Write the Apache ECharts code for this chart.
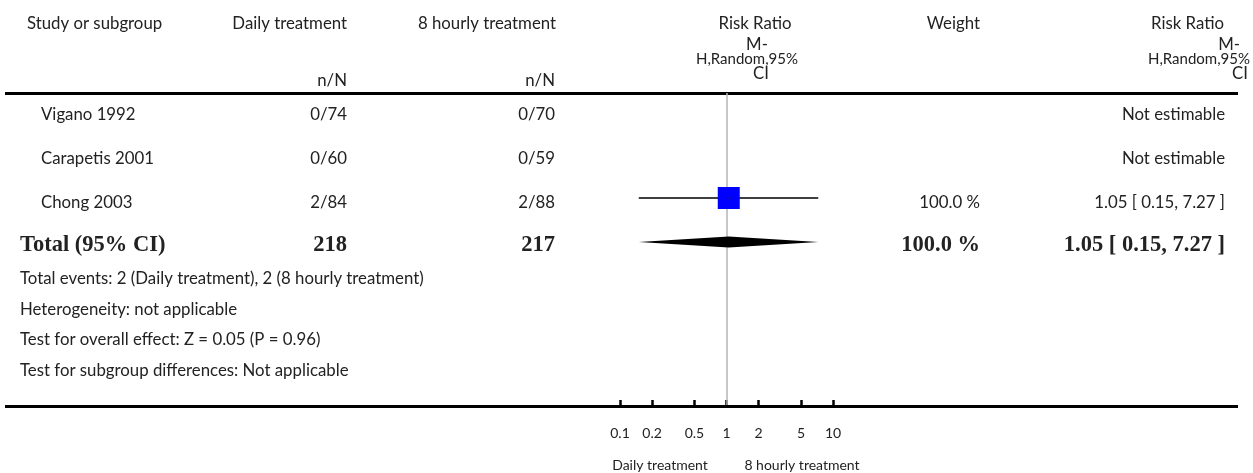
<!DOCTYPE html>
<html>
<head>
<meta charset="utf-8">
<script src="https://cdn.jsdelivr.net/npm/echarts@6/dist/echarts.min.js"></script>
<style>
html,body{margin:0;padding:0;background:#fff;}
#chart{width:1253px;height:473px;}
</style>
</head>
<body>
<div id="chart"></div>
<script>
// ---------- data ----------
const studies = ['Vigano 1992', 'Carapetis 2001', 'Chong 2003'];
const dailyEvents = [0, 0, 2];
const dailyTotal = [74, 60, 84];
const hourlyEvents = [0, 0, 2];
const hourlyTotal = [70, 59, 88];
const rrEstimate = [null, null, 1.05];
const rrLower = [null, null, 0.15];
const rrUpper = [null, null, 7.27];
const studyWeight = [null, null, 100.0];
const totalDaily = 218;
const totalHourly = 217;
const totalRR = [1.05, 0.15, 7.27];
const totalWeight = 100.0;
const xTicks = [0.1, 0.2, 0.5, 1, 2, 5, 10];
const favourLabels = ['Daily treatment', '8 hourly treatment'];
const footnotes = [
  'Total events: 2 (Daily treatment), 2 (8 hourly treatment)',
  'Heterogeneity: not applicable',
  'Test for overall effect: Z = 0.05 (P = 0.96)',
  'Test for subgroup differences: Not applicable'
];

// ---------- layout ----------
const W = 1253, H = 473;
const FONT = 'Lato, "Open Sans", sans-serif';
const REG = '16.8px ' + FONT;
const BOLD = 'bold 22.5px "Liberation Serif", "Times New Roman", serif';
const TXT = '#222';
const ROW0 = 110, ROWH = 44;           // pixel centre of first row, row pitch
const GRID_TOP = 93, GRID_BOTTOM = 405;
const totalRow = studies.length;       // diamond row index

function rrText(e, l, u) { return e.toFixed(2) + ' [ ' + l.toFixed(2) + ', ' + u.toFixed(2) + ' ]'; }
function txt(text, x, y, align, font, extra) {
  return Object.assign({
    type: 'text', silent: true,
    style: { text: text, x: x, y: y, font: font || REG, fill: TXT,
             textAlign: align || 'left', textVerticalAlign: 'middle',
             align: align || 'left', verticalAlign: 'middle' }
  }, extra || {});
}

const graphics = [];
// header
graphics.push(txt('Study or subgroup', 27, 24, 'left'));
graphics.push(txt('Daily treatment', 347, 24, 'right'));
graphics.push(txt('8 hourly treatment', 556, 24, 'right'));
graphics.push(txt('n/N', 347, 81, 'right'));
graphics.push(txt('n/N', 555, 81, 'right'));
graphics.push(txt('Risk Ratio', 755, 24, 'center'));
graphics.push(txt('M-', 757, 45, 'center'));
graphics.push(txt('H,Random,95%', 747, 59, 'center', '15px ' + FONT));
graphics.push(txt('CI', 761, 74, 'center'));
graphics.push(txt('Weight', 980, 24, 'right'));
graphics.push(txt('Risk Ratio', 1224, 24, 'right'));
graphics.push(txt('M-', 1240, 45, 'right'));
graphics.push(txt('H,Random,95%', 1250, 59, 'right', '15px ' + FONT));
graphics.push(txt('CI', 1248, 74, 'right'));
// rule lines
graphics.push({ type: 'line', silent: true, shape: { x1: 5, y1: 93.5, x2: 1238, y2: 93.5 }, style: { stroke: '#000', lineWidth: 3 } });
graphics.push({ type: 'line', silent: true, shape: { x1: 5, y1: 406.5, x2: 1238, y2: 406.5 }, style: { stroke: '#000', lineWidth: 3 } });
// study rows
studies.forEach(function (s, i) {
  const y = ROW0 + ROWH * i + 5;
  graphics.push(txt(s, 41, y, 'left'));
  graphics.push(txt(dailyEvents[i] + '/' + dailyTotal[i], 347, y, 'right'));
  graphics.push(txt(hourlyEvents[i] + '/' + hourlyTotal[i], 555, y, 'right'));
  if (rrEstimate[i] == null) {
    graphics.push(txt('Not estimable', 1225, y, 'right'));
  } else {
    graphics.push(txt(studyWeight[i].toFixed(1) + ' %', 980, y, 'right'));
    graphics.push(txt(rrText(rrEstimate[i], rrLower[i], rrUpper[i]), 1225, y, 'right'));
  }
});
// total row
const yT = ROW0 + ROWH * totalRow + 3;
graphics.push(txt('Total (95% CI)', 20, yT, 'left', BOLD));
graphics.push(txt(String(totalDaily), 347, yT, 'right', BOLD));
graphics.push(txt(String(totalHourly), 555, yT, 'right', BOLD));
graphics.push(txt(totalWeight.toFixed(1) + ' %', 980, yT, 'right', BOLD));
graphics.push(txt(rrText(totalRR[0], totalRR[1], totalRR[2]), 1225, yT, 'right', BOLD));
// footnotes
footnotes.forEach(function (f, i) {
  graphics.push(txt(f, 20, 279 + 30.4 * i, 'left'));
});
// favours labels
graphics.push(txt(favourLabels[0], 660, 465, 'center', '14px ' + FONT));
graphics.push(txt(favourLabels[1], 802, 465, 'center', '14px ' + FONT));

// ---------- series data ----------
const L = Math.log10;
const studyData = [];
studies.forEach(function (s, i) {
  if (rrEstimate[i] != null) {
    studyData.push([L(rrEstimate[i]), i, L(rrLower[i]), L(rrUpper[i]), studyWeight[i]]);
  }
});
const totalData = [[L(totalRR[0]), totalRow, L(totalRR[1]), L(totalRR[2])]];

const chart = echarts.init(document.getElementById('chart'));
chart.setOption({
  animation: false,
  backgroundColor: '#fff',
  grid: { left: 620, right: W - 833, top: GRID_TOP, bottom: H - GRID_BOTTOM, containLabel: false },
  xAxis: {
    type: 'value', min: -1, max: 1, position: 'bottom',
    axisLine: { show: false, onZero: false },
    splitLine: { show: false },
    axisTick: { show: true, inside: true, length: 5, lineStyle: { color: '#000', width: 2.5 },
                customValues: xTicks.map(L) },
    axisLabel: { show: true, margin: 21, color: TXT, fontFamily: FONT, fontSize: 14,
                 customValues: xTicks.map(L),
                 formatter: function (v) { return String(parseFloat(Math.pow(10, v).toPrecision(3))); } }
  },
  yAxis: {
    type: 'value', inverse: true,
    min: (GRID_TOP - ROW0) / ROWH, max: (GRID_BOTTOM - ROW0) / ROWH,
    show: false
  },
  graphic: graphics,
  series: [
    {
      type: 'line', data: [], silent: true, z: 1,
      markLine: {
        silent: true, symbol: 'none', label: { show: false },
        lineStyle: { color: '#b5b5b5', width: 1.5, type: 'solid' },
        data: [{ xAxis: 0 }]
      }
    },
    {
      type: 'custom', silent: true, data: studyData, z: 5,
      renderItem: function (params, api) {
        const c = api.coord([api.value(0), api.value(1)]);
        const lo = api.coord([api.value(2), api.value(1)]);
        const hi = api.coord([api.value(3), api.value(1)]);
        const size = 22 * Math.sqrt(api.value(4) / 100);
        return { type: 'group', children: [
          { type: 'line', shape: { x1: lo[0], y1: c[1], x2: hi[0], y2: c[1] },
            style: { stroke: '#000', lineWidth: 1.3 } },
          { type: 'rect', shape: { x: c[0] - size / 2, y: c[1] - size / 2, width: size, height: size },
            style: { fill: '#0000ff' } },
          { type: 'line', shape: { x1: c[0] - 1.5, y1: c[1], x2: c[0] + 1.5, y2: c[1] },
            style: { stroke: '#1a1a66', lineWidth: 1.3 } }
        ] };
      }
    },
    {
      type: 'custom', silent: true, data: totalData, z: 5,
      renderItem: function (params, api) {
        const c = api.coord([api.value(0), api.value(1)]);
        const lo = api.coord([api.value(2), api.value(1)]);
        const hi = api.coord([api.value(3), api.value(1)]);
        const h = 5.5;
        return { type: 'polygon',
          shape: { points: [[lo[0], c[1]], [c[0], c[1] - h], [hi[0], c[1]], [c[0], c[1] + h]] },
          style: { fill: '#000' } };
      }
    }
  ]
});
</script>
</body>
</html>
